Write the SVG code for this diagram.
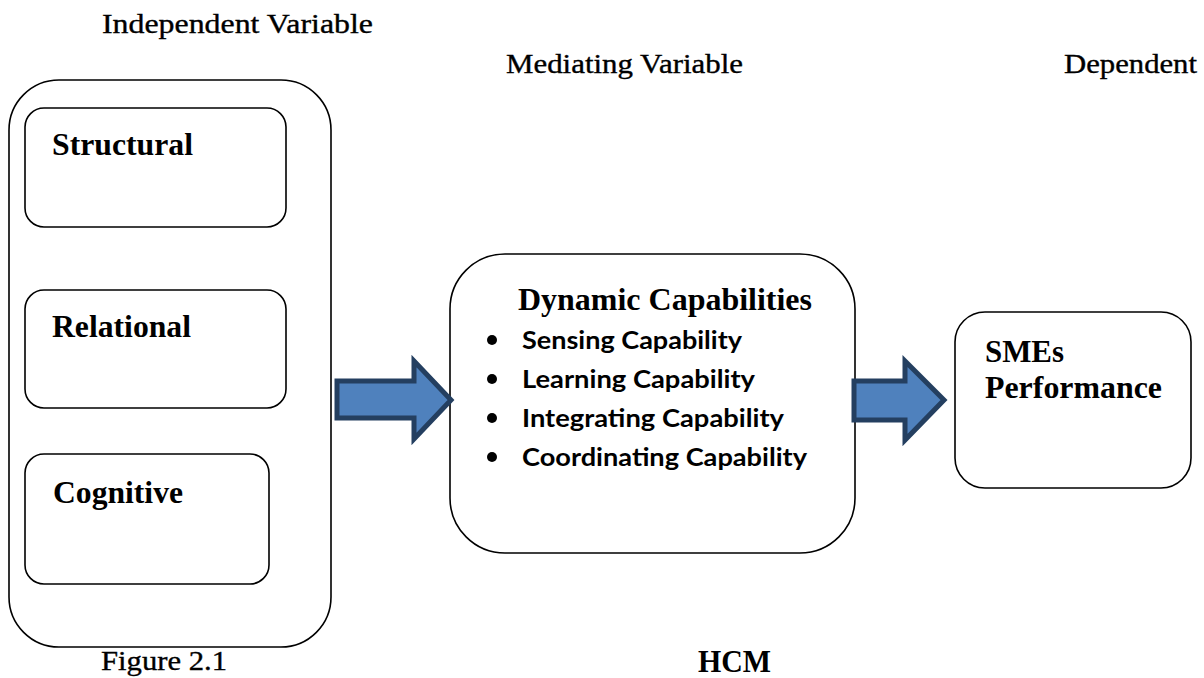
<svg xmlns="http://www.w3.org/2000/svg" width="1204" height="678" viewBox="0 0 1204 678">
<style>
.box{fill:#fff;stroke:#000;stroke-width:1.6}
.hdr{font-family:"Liberation Serif",serif;font-size:27px;fill:#000;stroke:#000;stroke-width:0.35}
.lbl{font-family:"Liberation Serif",serif;font-size:32px;font-weight:bold;fill:#000}
.itm{font-family:Lato,"Open Sans",sans-serif;font-size:25px;font-weight:bold;fill:#000}
.arr{fill:#4f81bd;stroke:#243f60;stroke-width:5;stroke-linejoin:miter}
</style>
<rect width="1204" height="678" fill="#fff"/>
<text class="hdr" x="102" y="33" textLength="271" lengthAdjust="spacingAndGlyphs">Independent Variable</text>
<text class="hdr" x="506" y="73" textLength="237" lengthAdjust="spacingAndGlyphs">Mediating Variable</text>
<text class="hdr" x="1064" y="73" textLength="133" lengthAdjust="spacingAndGlyphs">Dependent</text>
<g id="independent">
<rect class="box" x="9" y="80" width="322" height="567" rx="50" ry="50"/>
</g>
<g id="structural">
<rect class="box" x="25" y="108" width="261" height="119" rx="19" ry="19"/>
<text class="lbl" x="52" y="155" textLength="141" lengthAdjust="spacingAndGlyphs">Structural</text>
</g>
<g id="relational">
<rect class="box" x="25" y="290" width="261" height="118" rx="19" ry="19"/>
<text class="lbl" x="52" y="337" textLength="139" lengthAdjust="spacingAndGlyphs">Relational</text>
</g>
<g id="cognitive">
<rect class="box" x="25" y="454" width="244" height="130" rx="19" ry="19"/>
<text class="lbl" x="53" y="503" textLength="130" lengthAdjust="spacingAndGlyphs">Cognitive</text>
</g>
<g id="mediating">
<rect class="box" x="450" y="254" width="405" height="299" rx="55" ry="55"/>
<text class="lbl" x="518" y="310" textLength="294" lengthAdjust="spacingAndGlyphs">Dynamic Capabilities</text>
<circle cx="492" cy="340" r="5"/>
<circle cx="492" cy="379" r="5"/>
<circle cx="492" cy="418" r="5"/>
<circle cx="492" cy="457" r="5"/>
<text class="itm" x="522" y="349" textLength="220" lengthAdjust="spacingAndGlyphs">Sensing Capability</text>
<text class="itm" x="522" y="388" textLength="233" lengthAdjust="spacingAndGlyphs">Learning Capability</text>
<text class="itm" x="522" y="427" textLength="262" lengthAdjust="spacingAndGlyphs">Integrating Capability</text>
<text class="itm" x="522" y="466" textLength="285" lengthAdjust="spacingAndGlyphs">Coordinating Capability</text>
</g>
<g id="dependent">
<rect class="box" x="955" y="312" width="236" height="176" rx="30" ry="30"/>
<text class="lbl" x="985" y="362" textLength="79" lengthAdjust="spacingAndGlyphs">SMEs</text>
<text class="lbl" x="985" y="398" textLength="177" lengthAdjust="spacingAndGlyphs">Performance</text>
</g>
<g id="connectors">
<path class="arr" d="M337,381 L414,381 L414,361 L451,400 L414,439 L414,418 L337,418 Z"/>
<path class="arr" d="M854,381 L905,381 L905,361 L944,400 L905,440 L905,420 L854,420 Z"/>
</g>
<text class="hdr" x="101" y="670" font-size="28" stroke-width="0" textLength="126" lengthAdjust="spacingAndGlyphs">Figure 2.1</text>
<text class="lbl" x="698" y="672" font-size="30" textLength="73" lengthAdjust="spacingAndGlyphs">HCM</text>
</svg>
